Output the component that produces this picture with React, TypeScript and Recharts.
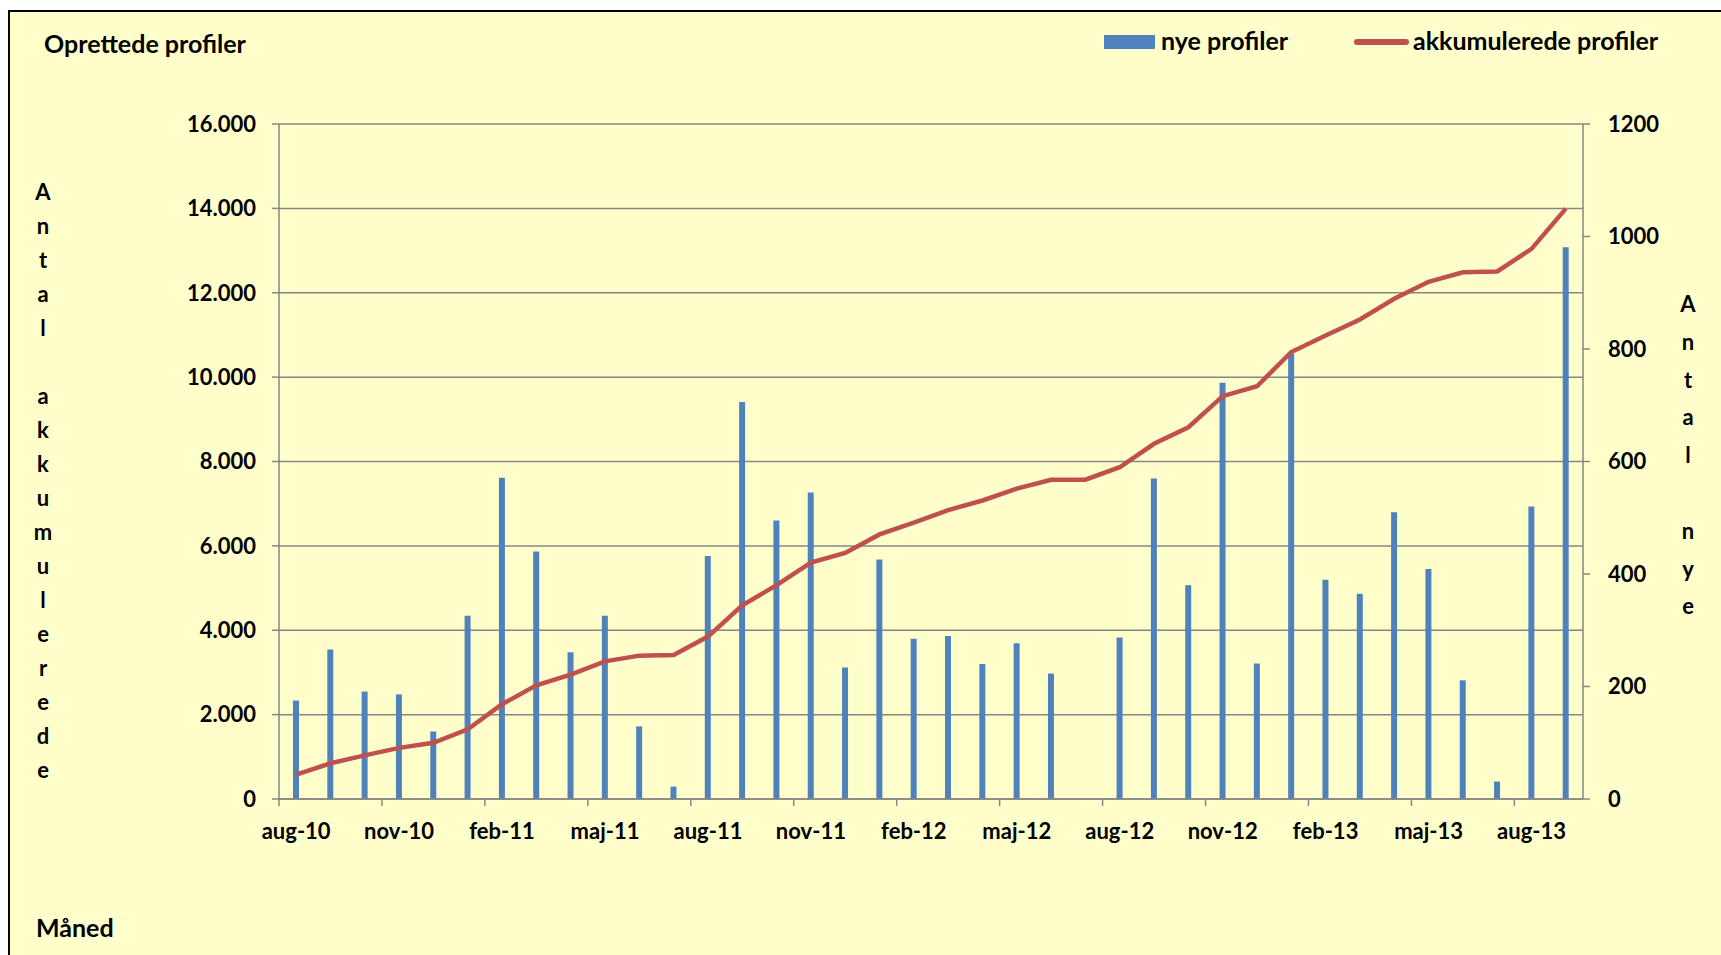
import { ComposedChart, Bar, Line, XAxis, YAxis, CartesianGrid } from "recharts";

const months = [
  "aug-10", "sep-10", "okt-10", "nov-10", "dec-10", "jan-11", "feb-11", "mar-11",
  "apr-11", "maj-11", "jun-11", "jul-11", "aug-11", "sep-11", "okt-11", "nov-11",
  "dec-11", "jan-12", "feb-12", "mar-12", "apr-12", "maj-12", "jun-12", "jul-12",
  "aug-12", "sep-12", "okt-12", "nov-12", "dec-12", "jan-13", "feb-13", "mar-13",
  "apr-13", "maj-13", "jun-13", "jul-13", "aug-13", "sep-13",
];

// nye profiler (right axis)
const nye = [
  175, 266, 191, 186, 120, 326, 571, 440, 261, 326, 129, 22, 432, 706, 495, 545,
  234, 426, 285, 290, 240, 277, 223, 0, 287, 570, 380, 740, 241, 792, 390, 365,
  510, 409, 211, 31, 520, 981,
];

// akkumulerede profiler (left axis)
const akkumulerede = [
  576, 847, 1034, 1212, 1331, 1653, 2246, 2695, 2949, 3263, 3398, 3415, 3850, 4590,
  5068, 5602, 5831, 6271, 6551, 6847, 7076, 7356, 7568, 7568, 7864, 8420, 8811,
  9548, 9784, 10595, 10986, 11366, 11858, 12259, 12485, 12505, 13039, 13994,
];

const leftTicks = [0, 2000, 4000, 6000, 8000, 10000, 12000, 14000, 16000];
const rightTicks = [0, 200, 400, 600, 800, 1000, 1200];

const data = months.map((m, i) => ({ month: m, nye: nye[i], akk: akkumulerede[i] }));

const W = 1721;
const H = 955;
const PLOT_LEFT = 279;
const PLOT_RIGHT = 1583;
const PLOT_TOP = 124;
const PLOT_BOTTOM = 799;
const HALF_BAND = (PLOT_RIGHT - PLOT_LEFT) / months.length / 2;

const BG = "#FFFFCC";
const BLUE = "#4F81BD";
const RED = "#C0504D";
const AXIS = "#868686";
const FONT = "Lato, 'Open Sans', sans-serif";

const tickFont = { fontSize: 22, fontWeight: 700, fill: "#000", fontFamily: FONT };
const textStyle = { fontFamily: FONT, fontWeight: 700, color: "#000" } as const;

function MonthTick({ x, payload }: any) {
  return (
    <g>
      <line
        x1={x - HALF_BAND}
        x2={x - HALF_BAND}
        y1={PLOT_BOTTOM}
        y2={PLOT_BOTTOM + 7}
        stroke={AXIS}
        strokeWidth={1.5}
      />
      <text
        x={x}
        y={PLOT_BOTTOM + 31}
        textAnchor="middle"
        dominantBaseline="central"
        {...tickFont}
      >
        {payload.value}
      </text>
    </g>
  );
}

function LegendBox() {
  return (
    <>
      <div style={{ position: "absolute", left: 1104, top: 35, width: 51, height: 14, background: BLUE }} />
      <div style={{ ...textStyle, position: "absolute", left: 1161, top: 24, fontSize: 25, lineHeight: "32px" }}>
        nye profiler
      </div>
      <div style={{ position: "absolute", left: 1354, top: 39, width: 55, height: 6, background: RED, borderRadius: 3 }} />
      <div style={{ ...textStyle, position: "absolute", left: 1413, top: 24, fontSize: 25, lineHeight: "32px" }}>
        akkumulerede profiler
      </div>
    </>
  );
}

function VerticalLabel({ text, left, top, step }: { text: string; left: number; top: number; step: number }) {
  return (
    <>
      {text.split("").map((ch, i) => (
        <div
          key={i}
          style={{
            ...textStyle,
            position: "absolute",
            left: left - 15,
            width: 30,
            top: top + i * step - 14,
            height: 28,
            lineHeight: "28px",
            textAlign: "center",
            fontSize: 22,
          }}
        >
          {ch === " " ? "\u00a0" : ch}
        </div>
      ))}
    </>
  );
}

export default function App() {
  return (
    <div style={{ position: "fixed", left: 0, top: 0, width: W, height: H, overflow: "hidden", background: "#fff" }}>
      <div
        style={{
          position: "absolute",
          left: 8,
          top: 10,
          width: W,
          height: H,
          background: BG,
          borderLeft: "2px solid #000",
          borderTop: "2px solid #000",
        }}
      />
      <div style={{ ...textStyle, position: "absolute", left: 44, top: 27, fontSize: 25, lineHeight: "32px" }}>
        Oprettede profiler
      </div>
      <div style={{ ...textStyle, position: "absolute", left: 36, top: 911, fontSize: 25, lineHeight: "32px" }}>
        Måned
      </div>
      <VerticalLabel text="Antal akkumulerede" left={43} top={192} step={34} />
      <VerticalLabel text="Antal nye" left={1688} top={304} step={37.8} />
      <LegendBox />

      <div style={{ position: "absolute", left: 0, top: 0 }}>
        <ComposedChart
          width={W}
          height={H}
          data={data}
          margin={{ top: PLOT_TOP, left: PLOT_LEFT - 60, right: W - PLOT_RIGHT - 60, bottom: H - PLOT_BOTTOM - 40 }}
        >
          <CartesianGrid yAxisId="left" vertical={false} stroke={AXIS} strokeWidth={1.5} />
          <XAxis
            dataKey="month"
            interval={2}
            height={40}
            tickLine={false}
            axisLine={{ stroke: AXIS, strokeWidth: 1.5 }}
            tick={<MonthTick />}
          />
          <YAxis
            yAxisId="left"
            width={60}
            domain={[0, 16000]}
            ticks={leftTicks}
            interval={0}
            tickFormatter={(v: number) => (v === 0 ? "0" : v.toLocaleString("da-DK"))}
            tickSize={7}
            tickMargin={16}
            tickLine={{ stroke: AXIS, strokeWidth: 1.5 }}
            axisLine={{ stroke: AXIS, strokeWidth: 1.5 }}
            tick={tickFont}
          />
          <YAxis
            yAxisId="right"
            orientation="right"
            width={60}
            domain={[0, 1200]}
            ticks={rightTicks}
            interval={0}
            tickSize={7}
            tickMargin={18}
            tickLine={{ stroke: AXIS, strokeWidth: 1.5 }}
            axisLine={{ stroke: AXIS, strokeWidth: 1.5 }}
            tick={{ ...tickFont, textAnchor: "start" }}
          />
          <Bar yAxisId="right" dataKey="nye" name="nye profiler" fill={BLUE} barSize={6} isAnimationActive={false} />
          <Line
            yAxisId="left"
            dataKey="akk"
            name="akkumulerede profiler"
            type="linear"
            stroke={RED}
            strokeWidth={4.5}
            dot={false}
            isAnimationActive={false}
          />
        </ComposedChart>
      </div>
    </div>
  );
}
